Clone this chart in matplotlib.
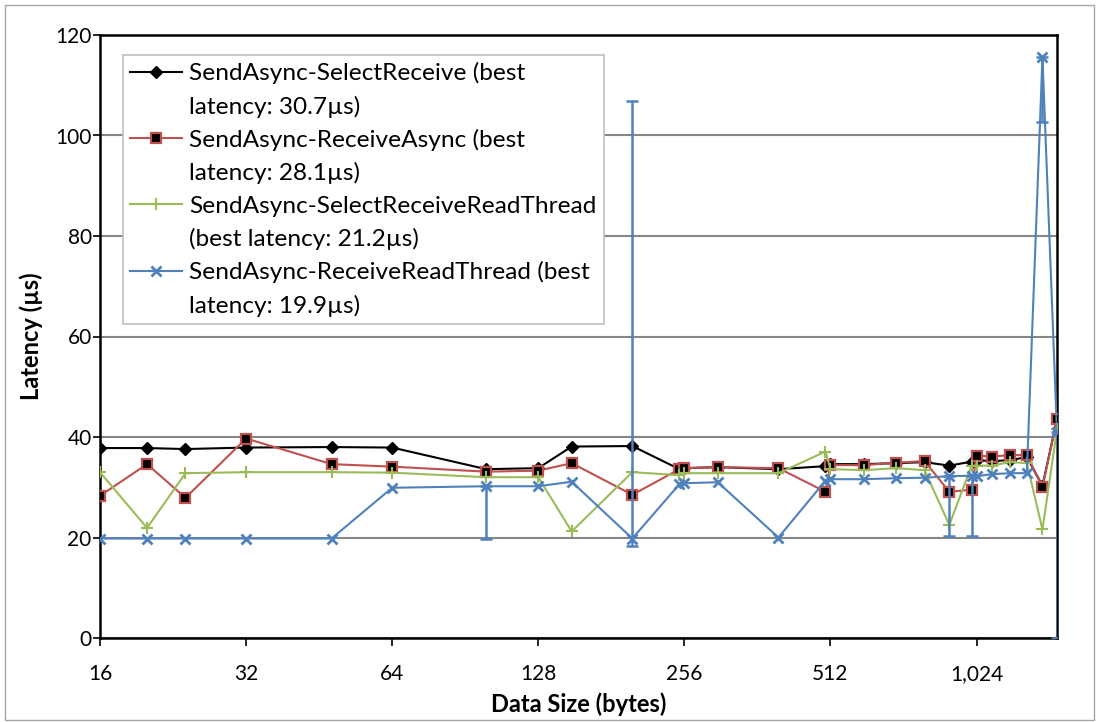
import matplotlib
matplotlib.use("Agg")
import matplotlib.pyplot as plt
import numpy as np
from matplotlib.lines import Line2D
from matplotlib.patches import Rectangle

# ---- data ----
data_size = [16, 20, 24, 32, 48, 64, 100, 128, 150, 200, 250, 256, 300, 400,
             500, 512, 600, 700, 800, 900, 1000, 1024, 1100, 1200, 1300, 1400, 1500]

select_receive = [37.8, 37.8, 37.6, 37.9, 38.0, 37.9, 33.6, 33.8, 38.1, 38.2, 33.6, 33.8, 34.0, 33.6,
                  34.2, 34.6, 34.6, 34.8, 35.0, 34.3, 35.1, 35.4, 35.2, 35.4, 36.0, 30.3, 43.5]
receive_async = [28.3, 34.6, 27.9, 39.7, 34.6, 34.1, 33.1, 33.3, 34.8, 28.5, 33.6, 33.8, 34.0, 33.8,
                 29.1, 34.4, 34.4, 34.9, 35.2, 29.1, 29.5, 36.3, 36.1, 36.4, 36.4, 30.0, 43.6]
select_receive_rt = [33.0, 21.9, 32.8, 33.0, 33.0, 32.9, 32.0, 32.0, 21.2, 33.0, 32.4, 32.8, 32.8, 32.8,
                     37.1, 33.6, 33.4, 33.8, 33.4, 22.5, 34.3, 34.3, 34.3, 35.0, 34.8, 21.6, 41.5]
receive_rt = [19.8, 19.8, 19.8, 19.8, 19.8, 29.9, 30.2, 30.2, 31.1, 19.8, 30.6, 30.8, 31.0, 20.0,
              31.3, 31.6, 31.6, 31.8, 31.9, 32.2, 32.3, 32.2, 32.6, 32.8, 32.8, 115.6, 40.9]
receive_rt_err_low = [0, 0, 0, 0, 0, 0, 10.5, 0, 0, 1.5, 0, 0, 0, 0,
                      0, 0, 0, 0, 0, 12.0, 12.1, 0, 0, 0, 0, 12.9, 40.9]
receive_rt_err_high = [0, 0, 0, 0, 0, 0, 0, 0, 0, 87.0, 0, 0, 0, 0,
                       0, 0, 0, 0, 0, 0, 0, 0, 0, 0, 0, 0, 0]

labels_l1 = ["SendAsync-SelectReceive (best", "SendAsync-ReceiveAsync (best",
             "SendAsync-SelectReceiveReadThread", "SendAsync-ReceiveReadThread (best"]
labels_l2 = ["latency: 30.7\u00b5s)", "latency: 28.1\u00b5s)",
             "(best latency: 21.2\u00b5s)", "latency: 19.9\u00b5s)"]

x_ticks = [16, 32, 64, 128, 256, 512, 1024]
x_tick_labels = ["16", "32", "64", "128", "256", "512", "1,024"]
y_ticks = [0, 20, 40, 60, 80, 100, 120]

BLACK = "#000000"
RED = "#C0504D"
GREEN = "#9BBB59"
BLUE = "#4F81BD"

plt.rcParams['font.family'] = ['Lato', 'DejaVu Sans']

fig = plt.figure(figsize=(10.99, 7.22), dpi=100)
ax = fig.add_axes([100 / 1099, 1 - 638 / 722, 957 / 1099, 603 / 722])

# outer border
fig.patches.append(Rectangle((5 / 1099, 2 / 722), 1089 / 1099, 715 / 722, transform=fig.transFigure,
                             fill=False, edgecolor="#A6A6A6", linewidth=1.0))

l1, = ax.plot(data_size, select_receive, color=BLACK, lw=1.5, marker="D", ms=6,
              mfc=BLACK, mec=BLACK, zorder=3)
l2, = ax.plot(data_size, receive_async, color=RED, lw=1.5, marker="s", ms=7.5,
              mfc=BLACK, mec=RED, mew=1.6, zorder=4)
l3, = ax.plot(data_size, select_receive_rt, color=GREEN, lw=1.5, marker="+", ms=8,
              mew=1.5, zorder=5)
l4, = ax.plot(data_size, receive_rt, color=BLUE, lw=1.5, marker="x", ms=7,
              mew=2.0, zorder=6)

xs = np.array(data_size, dtype=float)
lo = np.array(receive_rt_err_low)
hi = np.array(receive_rt_err_high)
yv = np.array(receive_rt)
mask = (lo > 0) | (hi > 0)
ax.errorbar(xs[mask], yv[mask], yerr=[lo[mask], hi[mask]], fmt="none",
            ecolor=BLUE, elinewidth=1.8, capsize=4.5, capthick=1.8, zorder=6)

ax.set_xscale("log", base=2)
ax.set_xlim(16, 1500)
ax.set_ylim(0, 120)
ax.set_xticks(x_ticks)
ax.set_xticklabels(x_tick_labels)
ax.xaxis.set_minor_locator(matplotlib.ticker.NullLocator())
ax.set_yticks(y_ticks)
ax.yaxis.grid(True, color="#868686", lw=1.5)
ax.set_axisbelow(True)
for s in ax.spines.values():
    s.set_color("black")
    s.set_linewidth(1.8)
ax.tick_params(axis="both", direction="out", length=6, width=1.2, labelsize=15, colors="black")
ax.tick_params(axis="y", length=5, pad=1)
ax.tick_params(axis="x", pad=13)

ax.set_xlabel("Data Size (bytes)", fontsize=17, fontweight="bold", labelpad=6)
ax.set_ylabel("Latency (\u00b5s)", fontsize=17, fontweight="bold", labelpad=9)

blank = Line2D([], [], color="none")
handles = [l1, blank, l2, blank, l3, blank, l4, blank]
labels = [labels_l1[0], labels_l2[0], labels_l1[1], labels_l2[1],
          labels_l1[2], labels_l2[2], labels_l1[3], labels_l2[3]]
leg = ax.legend(handles, labels, loc="upper left", bbox_to_anchor=(0.024, 0.967),
                fontsize=17.6, frameon=True, fancybox=False, edgecolor="#BFBFBF",
                framealpha=1, labelspacing=0.46, handlelength=2.1, handletextpad=0.3,
                borderpad=0.3, borderaxespad=0)
leg.get_frame().set_linewidth(1.2)

fig.savefig("out.png", dpi=100)
